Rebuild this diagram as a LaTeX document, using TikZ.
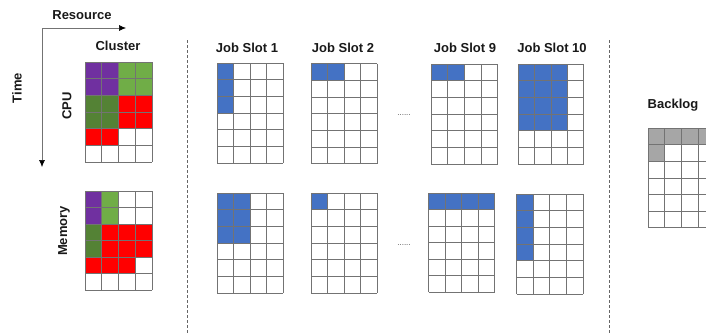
\documentclass[tikz,border=0pt]{standalone}
\usepackage{fontspec}
\setmainfont{Liberation Sans}
\usetikzlibrary{arrows.meta}
\definecolor{cpurple}{HTML}{7030A0}
\definecolor{clgreen}{HTML}{70AD47}
\definecolor{cdgreen}{HTML}{548235}
\definecolor{cred}{HTML}{FF0000}
\definecolor{cblue}{HTML}{4472C4}
\definecolor{cgray}{HTML}{A6A6A6}
\newcommand\gridlinesN[1]{%
  \foreach \i in {0,...,#1}{\draw[gl] (\i,0) -- (\i,6);}%
  \foreach \j in {0,...,6}{\draw[gl] (0,\j) -- (#1,\j);}}
\newcommand\gridlines{\gridlinesN{4}}
\begin{document}
\begin{tikzpicture}[x=1pt,y=-1pt,
  gl/.style={draw=black!55,line width=0.6pt},
  lab/.style={font=\fontsize{13}{15}\selectfont\bfseries,text=black!90,inner sep=0pt},
  vlab/.style={lab,rotate=90},
  axis/.style={draw=black!55,line width=0.6pt},
  sep/.style={draw=black!60,line width=0.6pt,dash pattern=on 3pt off 2pt},
  dots/.style={font=\fontsize{8}{9}\selectfont,text=black!70,inner sep=0pt}]
\useasboundingbox (0,0) rectangle (706,333);
\clip (0,0) rectangle (706,333);
% axes
\coordinate (o) at (42,28);
\coordinate (xe) at (126,28);
\coordinate (ye) at (42,167);
\draw[axis,-{Latex[length=7pt,width=6pt,color=black]}] (o) -- (xe);
\draw[axis,-{Latex[length=7pt,width=6pt,color=black]}] (o) -- (ye);
\node[lab] (res) at (82,15) {Resource};
\node[vlab] (time) at (17,88) {Time};
\node[lab] (clu) at (118,46) {Cluster};
\node[vlab] (cpu) at (67,106) {CPU};
\node[vlab] (mem) at (64,231) {Memory};
% cluster CPU
\begin{scope}[shift={(85,62)},x=16.75pt,y=-16.67pt]
  \fill[cpurple] (0,0) rectangle (2,2);
  \fill[clgreen] (2,0) rectangle (4,2);
  \fill[cdgreen] (0,2) rectangle (2,4);
  \fill[cred] (2,2) rectangle (4,4);
  \fill[cred] (0,4) rectangle (2,5);
  \gridlines
\end{scope}
% cluster Memory
\begin{scope}[shift={(85,191)},x=16.75pt,y=-16.5pt]
  \fill[cpurple] (0,0) rectangle (1,2);
  \fill[clgreen] (1,0) rectangle (2,2);
  \fill[cdgreen] (0,2) rectangle (1,4);
  \fill[cred] (1,2) rectangle (4,4);
  \fill[cred] (0,4) rectangle (3,5);
  \gridlines
\end{scope}
% separators
\coordinate (s1a) at (187,40);
\coordinate (s1b) at (187,333);
\coordinate (s2a) at (609,40);
\coordinate (s2b) at (609,333);
\draw[sep] (s1a) -- (s1b);
\draw[sep] (s2a) -- (s2b);
% job slot titles
\node[lab] (js1) at (247,48) {Job Slot 1};
\node[lab] (js2) at (343,48) {Job Slot 2};
\node[lab] (js9) at (465,48) {Job Slot 9};
\node[lab] (js10) at (552,48) {Job Slot 10};
% top job slots
\begin{scope}[shift={(217,63)},x=16.5pt,y=-16.67pt]
  \fill[cblue] (0,0) rectangle (1,3);
  \gridlines
\end{scope}
\begin{scope}[shift={(311,63.5)},x=16.5pt,y=-16.67pt]
  \fill[cblue] (0,0) rectangle (2,1);
  \gridlines
\end{scope}
\begin{scope}[shift={(431,64)},x=16.67pt,y=-16.67pt]
  \fill[cblue] (0,0) rectangle (2,1);
  \gridlines
\end{scope}
\begin{scope}[shift={(518,64)},x=16.4pt,y=-16.67pt]
  \fill[cblue] (0,0) rectangle (3,4);
  \gridlines
\end{scope}
% bottom job slots
\begin{scope}[shift={(217,193)},x=16.5pt,y=-16.67pt]
  \fill[cblue] (0,0) rectangle (2,3);
  \gridlines
\end{scope}
\begin{scope}[shift={(311,193)},x=16.5pt,y=-16.67pt]
  \fill[cblue] (0,0) rectangle (1,1);
  \gridlines
\end{scope}
\begin{scope}[shift={(428.5,193)},x=16.5pt,y=-16.5pt]
  \fill[cblue] (0,0) rectangle (4,1);
  \gridlines
\end{scope}
\begin{scope}[shift={(516.5,194)},x=16.6pt,y=-16.67pt]
  \fill[cblue] (0,0) rectangle (1,4);
  \gridlines
\end{scope}
% dots
\node[dots] (d1) at (404,115) {......};
\node[dots] (d2) at (404,245) {......};
% backlog
\node[lab] (bl) at (673,105) {Backlog};
\begin{scope}[shift={(648,128)},x=16.7pt,y=-16.6pt]
  \fill[cgray] (0,0) rectangle (5,1);
  \fill[cgray] (0,1) rectangle (1,2);
  \gridlinesN{5}
\end{scope}
\end{tikzpicture}
\end{document}
